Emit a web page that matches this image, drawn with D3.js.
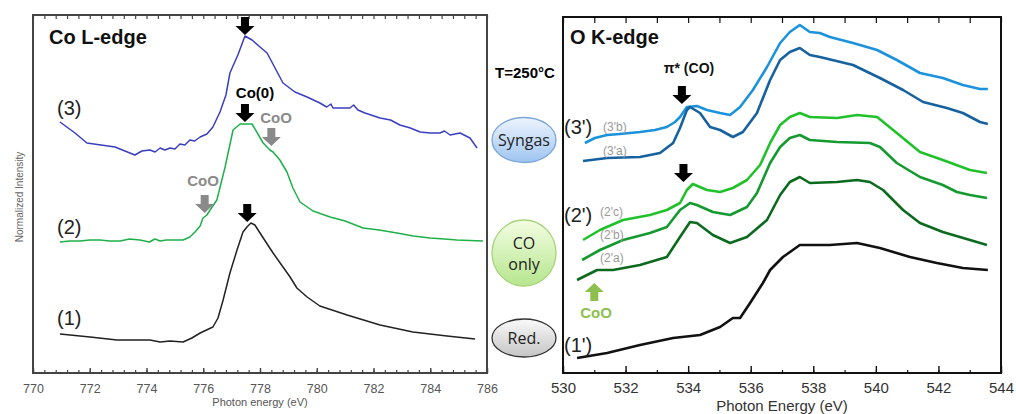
<!DOCTYPE html>
<html>
<head>
<meta charset="utf-8">
<script src="https://cdn.jsdelivr.net/npm/d3@7"></script>
<style>
  body { margin: 0; background: #fff; }
  svg text { font-family: "Liberation Sans", Arial, sans-serif; }
</style>
</head>
<body>
<div id="chart"></div>
<script>

// ---- data (energy in eV, intensity in arbitrary units) ----

// Co L-edge spectra
var coSyngas = [[770.95,251],[771.48,240],[771.90,230],[772.89,226],[773.59,218],[773.84,222],[774.12,223],[774.3,221],[774.48,225],
  [774.65,223],[774.83,225],[775.0,224],[775.18,229],[775.35,228],[775.53,233],[775.7,232],[775.89,236],[776.13,239],[776.34,246],
  [776.59,261],[776.80,278],[776.94,300],[777.22,318],[777.47,337],[777.72,333],[778.00,326],[778.25,320],[778.53,305],[778.81,290],
  [779.23,281],[779.66,276],[780.11,270],[780.35,266],[780.5,269],[780.57,265],[781.17,265],[781.3,268],[781.45,263],[781.70,260],
  [782.23,255],[782.6,253],[782.93,248],[783.3,245],[783.64,241],[784.0,240],[784.34,240],[784.5,242],[784.7,238],[785.05,240],
  [785.40,235],[785.65,225]];
var coCOonly = [[770.95,131],[771.3,132],[771.66,132],[772.0,133],[772.36,133],[772.7,132],[773.07,132],[773.4,134],[773.77,133],
  [774.1,131],[774.3,134],[774.48,132],[774.7,133],[775.00,133],[775.29,133],[775.53,136],[775.71,141],[775.89,147],[775.99,155],
  [776.13,158],[776.24,163],[776.48,173],[776.77,206],[777.05,243],[777.30,249],[777.72,249],[778.11,230],[778.35,223],[778.46,221],
  [778.70,213],[778.95,201],[779.16,185],[779.41,171],[779.87,162],[780.47,156],[781.0,152],[781.63,145],[782.2,143],[782.83,140],
  [783.4,137],[783.99,135],[784.5,134],[784.94,133],[785.86,132]];
var coReduced = [[770.95,39],[772.01,36],[772.96,33],[773.5,33],[774.12,33],[774.48,31],[774.83,32],[775.29,31],[775.60,35],
  [775.89,40],[776.34,46],[776.52,55],[776.70,73],[776.94,100],[777.19,123],[777.40,141],[777.54,146],[777.68,150],[777.82,148],
  [778.00,140],[778.46,120],[778.81,106],[779.06,96],[779.30,85],[779.66,76],[780.11,67],[781.07,58],[782.23,48],[783.39,41],
  [784.59,37],[785.58,34]];

// O K-edge spectra
var oK3b = [[530.70,230],[531.02,235],[531.41,238],[531.82,239],[532.46,241],[532.94,243],[533.32,246],[533.58,251],[533.74,256],
  [533.96,266],[534.28,267],[534.60,263],[535.02,260],[535.34,258],[535.66,266],[536.07,283],[536.52,306],[536.94,330],[537.25,341],
  [537.57,348],[537.89,341],[538.21,340],[538.53,336],[539.27,330],[540.04,323],[540.67,313],[541.41,300],[542.14,295],[542.78,288],
  [543.33,284],[543.58,284]];
var oK3a = [[530.64,212],[531.41,215],[532.46,216],[533.10,220],[533.52,230],[533.74,245],[533.96,263],[534.06,266],[534.38,260],
  [534.70,246],[535.02,243],[535.43,236],[535.75,241],[536.20,260],[536.62,293],[536.94,313],[537.25,321],[537.57,325],[537.89,318],
  [538.21,316],[539.27,308],[540.13,295],[540.87,283],[541.51,271],[542.27,265],[542.78,260],[543.33,251],[543.58,249]];
var oK2c = [[530.64,133],[531.18,143],[531.92,153],[532.78,158],[533.32,163],[533.74,170],[533.96,183],[534.15,189],[534.60,183],
  [535.02,181],[535.43,185],[535.88,193],[536.3,208],[536.62,230],[536.94,248],[537.25,256],[537.57,260],[537.89,256],[538.76,255],
  [539.40,258],[540.04,256],[540.67,240],[541.41,221],[542.14,213],[543.01,203],[543.55,200]];
var oK2b = [[530.61,113],[531.18,123],[531.92,133],[532.78,140],[533.32,146],[533.74,163],[534.06,170],[534.28,168],[534.79,161],
  [535.34,158],[535.88,166],[536.2,180],[536.62,210],[536.94,226],[537.25,235],[537.57,238],[537.89,233],[538.76,231],[539.81,230],
  [540.13,226],[540.67,210],[541.41,196],[542.14,188],[542.59,181],[543.01,178],[543.55,175]];
var oK2a = [[530.45,93],[530.64,96],[531.09,103],[531.60,103],[532.46,108],[533.32,116],[533.74,136],[534.06,151],[534.28,150],
  [534.79,138],[535.34,130],[535.88,136],[536.52,153],[536.94,178],[537.25,191],[537.57,196],[537.89,190],[538.76,191],[539.40,193],
  [539.81,191],[540.23,183],[540.87,163],[541.41,150],[542.14,141],[543.01,133],[543.55,128]];
var oK1 = [[530.45,15],[531.41,20],[532.46,28],[533.52,35],[534.38,38],[535.02,46],[535.43,55],[535.66,55],[535.98,70],[536.39,90],
  [536.62,103],[537.03,116],[537.57,128],[538.53,128],[539.40,130],[540.13,125],[541.09,116],[541.95,110],[542.78,105],[543.58,103]];

// tick labels
var coTicks = [770, 772, 774, 776, 778, 780, 782, 784, 786];
var oTicks = [530, 532, 534, 536, 538, 540, 542, 544];

// ---- layout ----
var W = 1016, H = 414;

var svg = d3.select("#chart").append("svg")
    .attr("width", W)
    .attr("height", H);

var defs = svg.append("defs");
function gradient(id, c0, c1) {
    var g = defs.append("linearGradient").attr("id", id)
        .attr("x1", 0).attr("y1", 0).attr("x2", 0).attr("y2", 1);
    g.append("stop").attr("offset", "0%").attr("stop-color", c0);
    g.append("stop").attr("offset", "100%").attr("stop-color", c1);
}
gradient("gBlue", "#eef5fe", "#9ec4f0");
gradient("gGreen", "#f3fde2", "#b6e68e");
gradient("gGray", "#fafafa", "#c4c4c4");

// Scales
var xCo = d3.scaleLinear().domain([770, 786]).range([33, 487]);
var yCo = d3.scaleLinear().domain([0, 358]).range([373, 15]);
var xO = d3.scaleLinear().domain([530, 544]).range([563, 1001]);
var yO = d3.scaleLinear().domain([0, 356]).range([373, 17]);

// ---- axes ----
function drawAxes(x, y, majors, minorStep, opt) {
    var x0 = x.range()[0], x1 = x.range()[1];
    var yb = y.range()[0], yt = y.range()[1];
    var g = svg.append("g");
    var minors = d3.range(majors[0], majors[majors.length - 1] + 1e-6, minorStep);

    // bottom minor ticks
    g.append("g")
        .attr("transform", "translate(0," + yb + ")")
        .call(d3.axisBottom(x).tickValues(minors).tickSize(-opt.minorLen).tickFormat(""))
        .call(function(s) { s.select(".domain").remove(); s.selectAll("line").attr("stroke", opt.stroke).attr("stroke-width", 1.2); });
    // bottom major ticks + labels
    g.append("g")
        .attr("transform", "translate(0," + yb + ")")
        .call(d3.axisBottom(x).tickValues(majors).tickSize(-opt.majorLen).tickPadding(opt.pad + opt.majorLen).tickFormat(d3.format("d")))
        .call(function(s) {
            s.select(".domain").remove();
            s.selectAll("line").attr("stroke", opt.stroke).attr("stroke-width", 1.4);
            s.selectAll("text").attr("fill", opt.labelColor).style("font-size", opt.fontSize + "px")
                .style("font-family", "'Liberation Sans', Arial, sans-serif");
        });
    // top ticks
    g.append("g")
        .attr("transform", "translate(0," + yt + ")")
        .call(d3.axisTop(x).tickValues(opt.topTicks).tickSize(-opt.topLen).tickFormat(""))
        .call(function(s) { s.select(".domain").remove(); s.selectAll("line").attr("stroke", opt.stroke).attr("stroke-width", 1.2); });

    // frame
    g.append("rect")
        .attr("x", x0).attr("y", yt)
        .attr("width", x1 - x0).attr("height", yb - yt)
        .attr("fill", "none")
        .attr("stroke", opt.stroke)
        .attr("stroke-width", opt.frameWidth);
}

drawAxes(xCo, yCo, coTicks, 0.4, {
    minorLen: 3, majorLen: 5, topLen: 4, pad: 6, fontSize: 12.5,
    labelColor: "#555", stroke: "#444", frameWidth: 2,
    topTicks: d3.range(770, 786.001, 0.4)
});
drawAxes(xO, yO, oTicks, 1, {
    minorLen: 3, majorLen: 7, topLen: 6, pad: 2, fontSize: 15,
    labelColor: "#333", stroke: "#111", frameWidth: 2,
    topTicks: d3.range(530, 544.001, 1)
});

// axis titles
svg.append("text")
    .attr("x", 260).attr("y", 406)
    .attr("text-anchor", "middle")
    .style("font-size", "11px").attr("fill", "#555")
    .text("Photon energy (eV)");
svg.append("text")
    .attr("x", 782).attr("y", 411)
    .attr("text-anchor", "middle")
    .style("font-size", "15px").attr("fill", "#333")
    .text("Photon Energy (eV)");
svg.append("text")
    .attr("transform", "translate(23,197) rotate(-90)")
    .attr("text-anchor", "middle")
    .style("font-size", "10px").attr("fill", "#666")
    .text("Normalized Intensity");

// ---- spectra ----
function drawLine(data, x, y, color, width) {
    var line = d3.line()
        .x(function(d) { return x(d[0]); })
        .y(function(d) { return y(d[1]); });
    svg.append("path")
        .datum(data)
        .attr("fill", "none")
        .attr("stroke", color)
        .attr("stroke-width", width)
        .attr("stroke-linejoin", "round")
        .attr("d", line);
}

drawLine(coSyngas, xCo, yCo, "#3a3fc2", 1.5);
drawLine(coCOonly, xCo, yCo, "#1fb04a", 1.5);
drawLine(coReduced, xCo, yCo, "#222", 1.5);

drawLine(oK3b, xO, yO, "#1b92dc", 2.6);
drawLine(oK3a, xO, yO, "#16619f", 2.6);
drawLine(oK2c, xO, yO, "#21c12b", 2.6);
drawLine(oK2b, xO, yO, "#149a2f", 2.6);
drawLine(oK2a, xO, yO, "#0b6a1d", 2.6);
drawLine(oK1, xO, yO, "#111", 2.6);

// ---- annotations ----
// block arrow: tip at (cx, tipY), dir = 1 pointing down, -1 pointing up
function arrow(cx, tipY, dir, color) {
    var len = 18, head = 9, hw = 9.5, sw = 4;
    var b = tipY - dir * len, h = tipY - dir * head;
    var pts = [[cx - sw, b], [cx + sw, b], [cx + sw, h], [cx + hw, h], [cx, tipY], [cx - hw, h], [cx - sw, h]];
    svg.append("path")
        .attr("d", d3.line()(pts) + "Z")
        .attr("fill", color);
}
function label(x, y, txt, size, color, weight, anchor) {
    return svg.append("text")
        .attr("x", x).attr("y", y)
        .attr("text-anchor", anchor || "start")
        .style("font-size", size + "px")
        .style("font-weight", weight || "normal")
        .attr("fill", color)
        .text(txt);
}

// Co L-edge panel
label(49, 44, "Co L-edge", 20, "#111", "bold");
arrow(xCo(777.47), 35, 1, "#000");
label(255, 98, "Co(0)", 15, "#000", "bold", "middle");
arrow(xCo(777.47), 122, 1, "#000");
label(276, 123, "CoO", 15, "#8a8a8a", "bold", "middle");
arrow(xCo(778.4), 146, 1, "#8a8a8a");
label(203, 186, "CoO", 15, "#8a8a8a", "bold", "middle");
arrow(xCo(776.05), 213, 1, "#8a8a8a");
arrow(xCo(777.55), 222, 1, "#000");
label(57, 115, "(3)", 20, "#222");
label(57, 234, "(2)", 20, "#222");
label(57, 325, "(1)", 20, "#222");

// middle column: condition buttons
label(525, 78, "T=250°C", 15, "#000", "bold", "middle");
var buttons = [
    {cy: 140, ry: 22.5, fill: "url(#gBlue)", stroke: "#7aa6da", lines: ["Syngas"]},
    {cy: 253, ry: 33, fill: "url(#gGreen)", stroke: "#a6d47a", lines: ["CO", "only"]},
    {cy: 338, ry: 19, fill: "url(#gGray)", stroke: "#333", lines: ["Red."]}
];
buttons.forEach(function(b) {
    svg.append("ellipse")
        .attr("cx", 524).attr("cy", b.cy)
        .attr("rx", 32).attr("ry", b.ry)
        .attr("fill", b.fill)
        .attr("stroke", b.stroke)
        .attr("stroke-width", 1.3);
    var t = svg.append("text")
        .attr("x", 524)
        .attr("y", b.cy + 6 - (b.lines.length - 1) * 10)
        .attr("text-anchor", "middle")
        .style("font-size", "16px")
        .style("font-family", "'Open Sans', 'Liberation Sans', sans-serif")
        .attr("fill", "#222");
    b.lines.forEach(function(l, i) {
        t.append("tspan").attr("x", 524).attr("dy", i ? 21 : 0).text(l);
    });
});

// O K-edge panel
label(570, 44, "O K-edge", 20, "#111", "bold");
label(689, 73, "π* (CO)", 14, "#111", "bold", "middle");
arrow(xO(533.8), 104, 1, "#000");
arrow(xO(533.85), 182, 1, "#000");
arrow(xO(531.0), 283, -1, "#8dbf4f");
label(596, 318, "CoO", 15, "#8dbf4f", "bold", "middle");

label(564, 134, "(3')", 20, "#222");
label(564, 222, "(2')", 20, "#222");
label(564, 352, "(1')", 20, "#222");
label(603, 131, "(3'b)", 12, "#9a9a9a");
label(603, 155, "(3'a)", 12, "#9a9a9a");
label(600, 216, "(2'c)", 12, "#9a9a9a");
label(600, 239, "(2'b)", 12, "#9a9a9a");
label(600, 262, "(2'a)", 12, "#9a9a9a");

</script>
</body>
</html>
